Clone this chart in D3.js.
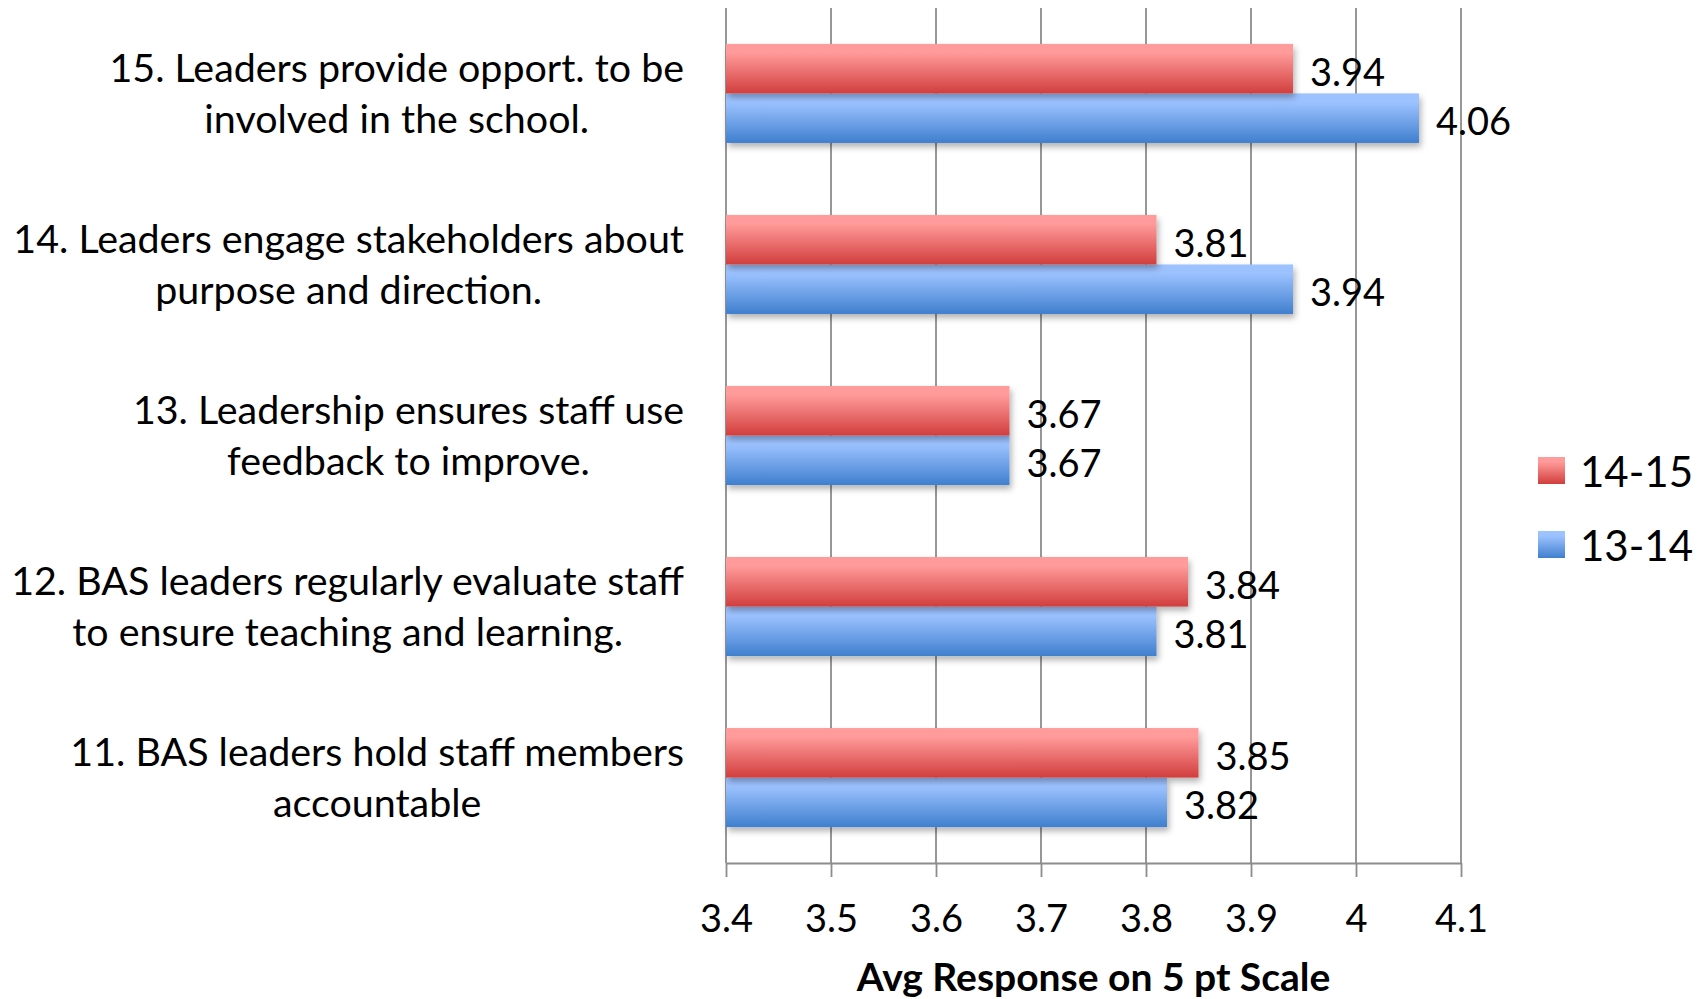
<!DOCTYPE html>
<html>
<head>
<meta charset="utf-8">
<script src="https://cdn.jsdelivr.net/npm/d3@7"></script>
<style>
  body { margin: 0; background: #fff; }
  svg { display: block; font-family: Lato, "Open Sans", sans-serif; }
</style>
</head>
<body>
<svg id="chart"></svg>
<script>
// questions, top to bottom; "\n" marks the line break in the label
const categories = [
  "15. Leaders provide opport. to be\ninvolved in the school.",
  "14. Leaders engage stakeholders about\npurpose and direction.",
  "13. Leadership ensures staff use\nfeedback to improve.",
  "12. BAS leaders regularly evaluate staff\nto ensure teaching and learning.",
  "11. BAS leaders hold staff members\naccountable"
];
const seriesNames = ["14-15", "13-14"];
const values1415 = [3.94, 3.81, 3.67, 3.84, 3.85];
const values1314 = [4.06, 3.94, 3.67, 3.81, 3.82];
const xTicks = [3.4, 3.5, 3.6, 3.7, 3.8, 3.9, 4.0, 4.1];
const axisTitle = "Avg Response on 5 pt Scale";

const W = 1706, H = 999;
const margin = {top: 8, left: 726, right: 245, bottom: 136};
const w = W - margin.left - margin.right;
const h = H - margin.top - margin.bottom;

const svg = d3.select("#chart").attr("width", W).attr("height", H);

// gradients + shadow
const defs = svg.append("defs");
const grads = [
  {id: "g1415", light: "#ff9b9a", dark: "#d13e3d"},
  {id: "g1314", light: "#9cc2ff", dark: "#3f7fce"}
];
grads.forEach(gd => {
  const lg = defs.append("linearGradient").attr("id", gd.id)
    .attr("x1", 0).attr("y1", 0).attr("x2", 0).attr("y2", 1);
  lg.append("stop").attr("offset", "0%").attr("stop-color", gd.light);
  lg.append("stop").attr("offset", "18%").attr("stop-color", gd.light);
  lg.append("stop").attr("offset", "100%").attr("stop-color", gd.dark);
});
const f = defs.append("filter").attr("id", "shadow")
  .attr("x", "-5%").attr("y", "-20%").attr("width", "115%").attr("height", "160%");
f.append("feDropShadow").attr("dx", 2).attr("dy", 4).attr("stdDeviation", 3)
  .attr("flood-color", "#000").attr("flood-opacity", 0.3);

const data = categories.map((c, i) => ({
  cat: c,
  vals: [
    {key: seriesNames[0], value: values1415[i], fill: "url(#g1415)"},
    {key: seriesNames[1], value: values1314[i], fill: "url(#g1314)"}
  ]
}));

const x = d3.scaleLinear().domain([3.4, 4.1]).range([0, w]);
const y = d3.scaleBand().domain(categories).range([0, h])
  .paddingInner(0.421).paddingOuter(0.21);
const ySub = d3.scaleBand().domain(seriesNames).range([0, y.bandwidth()]);

const g = svg.append("g").attr("transform", `translate(${margin.left},${margin.top})`);

// gridlines
g.append("g")
  .selectAll("line").data(xTicks).join("line")
  .attr("x1", d => x(d)).attr("x2", d => x(d))
  .attr("y1", 0).attr("y2", h)
  .attr("stroke", "#8c8c8c").attr("stroke-width", 1.8);

// bottom axis
const xAxis = g.append("g").attr("transform", `translate(0,${h})`)
  .call(d3.axisBottom(x).tickValues(xTicks).tickFormat(d3.format("~g"))
    .tickSizeInner(14).tickSizeOuter(0).tickPadding(26));
xAxis.select(".domain").attr("stroke", "#8c8c8c").attr("stroke-width", 1.8);
xAxis.selectAll(".tick line").attr("stroke", "#8c8c8c").attr("stroke-width", 1.8);
xAxis.selectAll(".tick text")
  .attr("font-size", 38).attr("font-family", "Lato").attr("fill", "#000")
  .attr("dy", "0.75em");

// bars
const groups = g.selectAll(".grp").data(data).join("g")
  .attr("class", "grp")
  .attr("transform", d => `translate(0,${y(d.cat)})`);

groups.selectAll("rect").data(d => d.vals.slice().reverse()).join("rect")
  .attr("x", 0)
  .attr("y", d => ySub(d.key))
  .attr("width", d => x(d.value))
  .attr("height", ySub.bandwidth())
  .attr("fill", d => d.fill)
  .attr("filter", "url(#shadow)");

groups.selectAll("text.val").data(d => d.vals).join("text")
  .attr("class", "val")
  .attr("x", d => x(d.value) + 17)
  .attr("y", d => ySub(d.key) + ySub.bandwidth() / 2 + 2)
  .attr("dominant-baseline", "central")
  .attr("font-size", 38)
  .text(d => d3.format(".2f")(d.value));

// category labels: block right edge at 684, lines centred within block
const labelRight = 684 - margin.left;
const lineH = 51;
data.forEach(d => {
  const lines = d.cat.split("\n");
  const t = g.append("text")
    .attr("font-size", 39.4)
    .attr("text-anchor", "middle")
    .attr("dominant-baseline", "central");
  const cy = y(d.cat) + y.bandwidth() / 2 - 2;
  lines.forEach((ln, k) => {
    t.append("tspan").attr("x", 0)
      .attr("y", cy + (k - (lines.length - 1) / 2) * lineH)
      .text(ln);
  });
  let maxW = 0;
  t.selectAll("tspan").each(function() {
    maxW = Math.max(maxW, this.getComputedTextLength());
  });
  t.selectAll("tspan").attr("x", labelRight - maxW / 2);
});

// axis title
g.append("text")
  .attr("x", w / 2).attr("y", h + 128)
  .attr("text-anchor", "middle")
  .attr("font-size", 39).attr("font-weight", "bold")
  .text(axisTitle);

// legend
const legend = svg.append("g").attr("transform", "translate(1538,457)");
const li = legend.selectAll("g").data(grads.map((gd, i) => ({name: seriesNames[i], fill: `url(#${gd.id})`})))
  .join("g").attr("transform", (d, i) => `translate(0,${i * 74})`);
li.append("rect").attr("width", 27).attr("height", 27).attr("fill", d => d.fill);
li.append("text").attr("x", 42).attr("y", 14).attr("dominant-baseline", "central")
  .attr("font-size", 42).text(d => d.name);
</script>
</body>
</html>
